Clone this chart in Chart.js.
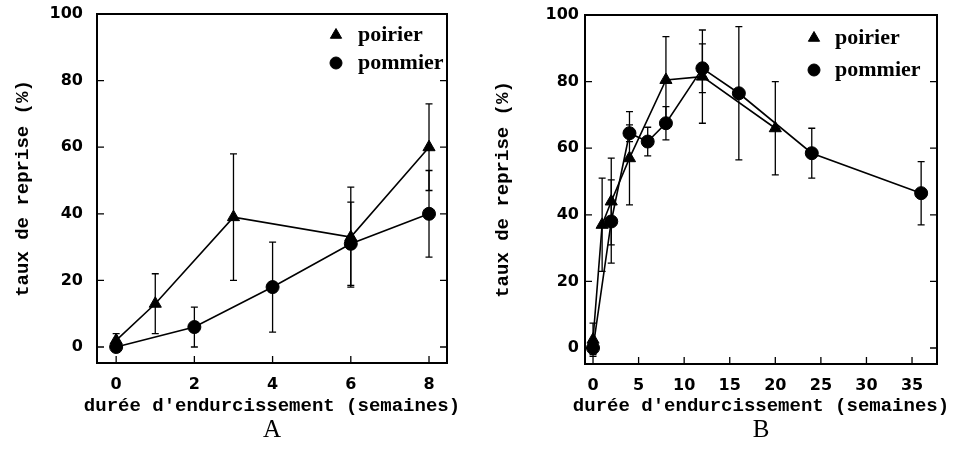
<!DOCTYPE html>
<html><head><meta charset="utf-8">
<script src="https://cdn.jsdelivr.net/npm/chart.js@4/dist/chart.umd.min.js"></script>
<style>
html,body{margin:0;padding:0;background:#fff;}
#wrap{position:relative;width:965px;height:449px;background:#fff;}
canvas{position:absolute;top:0;}
</style></head><body>
<div id="wrap">
<canvas id="ca" width="480" height="449" style="left:0"></canvas>
<canvas id="cb" width="485" height="449" style="left:480px"></canvas>
</div>
<script>
// ---------- data ----------
const seriesNames = ['poirier', 'pommier'];
const panelLabels = ['A', 'B'];
const yTitle = 'taux de reprise (%)';
const xTitle = "durée d'endurcissement (semaines)";
const yTicks = [0, 20, 40, 60, 80, 100];
const xTicksA = [0, 2, 4, 6, 8];
const xTicksB = [0, 5, 10, 15, 20, 25, 30, 35];

// Panel A
const poirierAX   = [0, 1, 3, 6, 8];
const poirierAY   = [2, 13, 39, 33, 60];
const poirierAErr = [2, 9, 19, 15, 13];
const pommierAX   = [0, 2, 4, 6, 8];
const pommierAY   = [0, 6, 18, 31, 40];
const pommierAErr = [0, 6, 13.5, 12.5, 13];

// Panel B
const poirierBX   = [0, 1, 2, 4, 8, 12, 20];
const poirierBY   = [2.5, 37, 44, 57, 80.5, 81.5, 66];
const poirierBErr = [5, 14, 13, 14, 13, 14, 14];
const pommierBX   = [0, 2, 4, 6, 8, 12, 16, 24, 36];
const pommierBY   = [0, 38, 64.5, 62, 67.5, 84, 76.5, 58.5, 46.5];
const pommierBErr = [2, 12.5, 2.5, 4.3, 5, 7.3, 20, 7.5, 9.5];

// ---------- layout / style ----------
const TICK_FONT = {family: '"DejaVu Sans", sans-serif', size: 16, weight: 'bold'};
const TITLE_FONT = 'bold 19px "Liberation Mono", monospace';
const LEGEND_FONT = 'bold 22px "Liberation Serif", serif';
const PANEL_FONT = '25px "Liberation Serif", serif';

function pts(xs, ys) { return xs.map((x, i) => ({x: x, y: ys[i]})); }

const framePlugin = {
  id: 'frameTicks',
  beforeDatasetsDraw(chart) {
    const ctx = chart.ctx, a = chart.chartArea;
    const xs = chart.scales.x, ys = chart.scales.y;
    ctx.save();
    ctx.strokeStyle = '#000';
    ctx.lineWidth = 2;
    ctx.strokeRect(a.left, a.top, a.right - a.left, a.bottom - a.top);
    ctx.lineWidth = 1.3;
    ctx.beginPath();
    ys.ticks.forEach(t => {
      const py = ys.getPixelForValue(t.value);
      ctx.moveTo(a.left, py); ctx.lineTo(a.left + 7, py);
      ctx.moveTo(a.right, py); ctx.lineTo(a.right - 7, py);
    });
    xs.ticks.forEach(t => {
      const px = xs.getPixelForValue(t.value);
      ctx.moveTo(px, a.bottom); ctx.lineTo(px, a.bottom - 7);
    });
    ctx.stroke();
    // error bars
    ctx.lineWidth = 1.3;
    chart.data.datasets.forEach(ds => {
      ds.data.forEach((p, i) => {
        const e = ds.errors[i];
        if (!e) return;
        const px = xs.getPixelForValue(p.x);
        const y1 = ys.getPixelForValue(p.y - e), y2 = ys.getPixelForValue(p.y + e);
        ctx.beginPath();
        ctx.moveTo(px, y1); ctx.lineTo(px, y2);
        ctx.moveTo(px - 3.5, y1); ctx.lineTo(px + 3.5, y1);
        ctx.moveTo(px - 3.5, y2); ctx.lineTo(px + 3.5, y2);
        ctx.stroke();
      });
    });
    ctx.restore();
  },
  afterDraw(chart, args, o) {
    const ctx = chart.ctx, a = chart.chartArea;
    ctx.save();
    ctx.fillStyle = '#000';
    ctx.strokeStyle = '#000';
    // x title
    ctx.font = TITLE_FONT;
    ctx.letterSpacing = o.ls + 'px';
    ctx.textAlign = 'center';
    ctx.textBaseline = 'alphabetic';
    ctx.fillText(xTitle, (a.left + a.right) / 2, o.xTitleY);
    // y title
    ctx.save();
    ctx.translate(o.yTitleX, (a.top + a.bottom) / 2);
    ctx.rotate(-Math.PI / 2);
    ctx.fillText(yTitle, 0, 0);
    ctx.restore();
    // panel label
    ctx.letterSpacing = '0px';
    ctx.font = PANEL_FONT;
    ctx.fillText(o.panel, (a.left + a.right) / 2, o.panelY);
    // legend
    ctx.font = LEGEND_FONT;
    ctx.textAlign = 'left';
    chart.data.datasets.forEach((ds, i) => {
      const my = o.legY[i];
      Chart.helpers.drawPoint(ctx, {pointStyle: ds.pointStyle, radius: ds.pointStyle === 'triangle' ? 6.5 : 6, borderWidth: 1, rotation: 0}, o.legX, my);
      ctx.fillText(ds.label, o.legX + o.legGap, my + 6);
    });
    ctx.restore();
  }
};

function makeChart(id, cfg) {
  const H = 449;
  const xH = 40;
  return new Chart(document.getElementById(id), {
    type: 'line',
    data: {
      datasets: [
        {label: seriesNames[0], data: pts(cfg.px, cfg.py), errors: cfg.pe,
         pointStyle: 'triangle', pointRadius: 7, pointHoverRadius: 7},
        {label: seriesNames[1], data: pts(cfg.mx, cfg.my), errors: cfg.me,
         pointStyle: 'circle', pointRadius: 6.5, pointHoverRadius: 6.5}
      ].map(d => Object.assign(d, {borderColor: '#000', backgroundColor: '#000',
        pointBackgroundColor: '#000', pointBorderColor: '#000', pointBorderWidth: 1,
        borderWidth: 1.6, tension: 0, fill: false}))
    },
    options: {
      responsive: false,
      animation: false,
      events: [],
      layout: {padding: {left: 0, right: cfg.w - cfg.right, top: cfg.top, bottom: H - cfg.bottom - xH}},
      plugins: {
        legend: {display: false},
        tooltip: {enabled: false},
        frameTicks: cfg.text
      },
      scales: {
        x: {
          type: 'linear', min: cfg.xMin, max: cfg.xMax,
          afterFit(s) { s.height = xH; s.paddingLeft = 0; s.paddingRight = 0; },
          afterBuildTicks(s) { s.ticks = cfg.xTicks.map(v => ({value: v})); },
          grid: {display: false, drawTicks: false}, border: {display: false},
          ticks: {color: '#000', font: TICK_FONT, padding: 12, maxRotation: 0, autoSkip: false}
        },
        y: {
          type: 'linear', min: -4.8, max: 100,
          afterFit(s) { s.width = cfg.left; s.paddingTop = 0; s.paddingBottom = 0; },
          afterBuildTicks(s) { s.ticks = yTicks.map(v => ({value: v})); },
          grid: {display: false, drawTicks: false}, border: {display: false},
          ticks: {color: '#000', font: TICK_FONT, padding: cfg.yPad}
        }
      }
    },
    plugins: [framePlugin]
  });
}

makeChart('ca', {
  w: 480, left: 97, right: 447, top: 14, bottom: 363,
  xMin: -0.49, xMax: 8.46, xTicks: xTicksA, yPad: 14,
  px: poirierAX, py: poirierAY, pe: poirierAErr,
  mx: pommierAX, my: pommierAY, me: pommierAErr,
  text: {ls: 0, xTitleY: 411, yTitleX: 28, panel: panelLabels[0], panelY: 437,
         legX: 336, legGap: 22, legY: [35, 63]}
});
makeChart('cb', {
  w: 485, left: 105, right: 457, top: 15, bottom: 364,
  xMin: -0.88, xMax: 37.74, xTicks: xTicksB, yPad: 6,
  px: poirierBX, py: poirierBY, pe: poirierBErr,
  mx: pommierBX, my: pommierBY, me: pommierBErr,
  text: {ls: 0, xTitleY: 411, yTitleX: 28, panel: panelLabels[1], panelY: 437,
         legX: 334, legGap: 21, legY: [38, 70]}
});
</script>
</body></html>
